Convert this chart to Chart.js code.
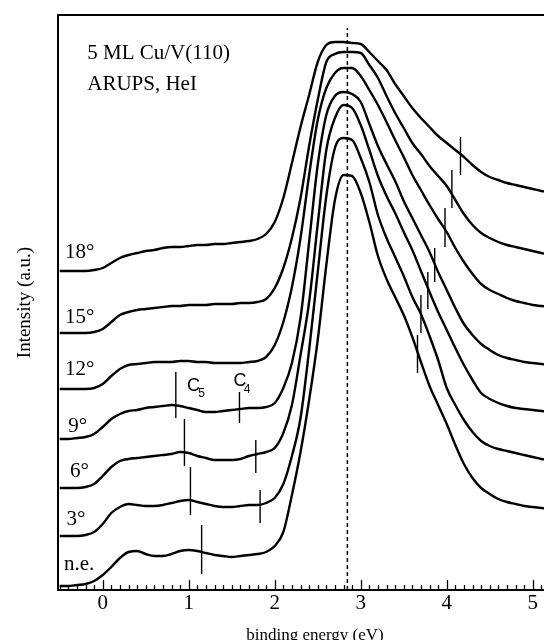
<!DOCTYPE html>
<html><head><meta charset="utf-8">
<script src="https://cdn.jsdelivr.net/npm/chart.js@4.4.1/dist/chart.umd.min.js"></script>
<style>html,body{margin:0;padding:0;background:#fff}canvas{display:block}</style>
</head><body>
<canvas id="c" width="544" height="640"></canvas>
<script>
// ---- data ----
const energies = [-0.5,-0.4,-0.3,-0.2,-0.1,0.0,0.1,0.2,0.3,0.4,
  0.5,0.6,0.7,0.8,0.9,1.0,1.1,1.2,1.3,1.4,
  1.5,1.6,1.7,1.8,1.9,2.0,2.1,2.2,2.3,2.4,
  2.5,2.6,2.7,2.8,2.9,3.0,3.1,3.2,3.3,3.4,
  3.5,3.6,3.7,3.8,3.9,4.0,4.1,4.2,4.3,4.4,
  4.5,4.6,4.7,4.8,4.9,5.0,5.1,5.2];
const curveNames = ['18°','15°','12°','9°','6°','3°','n.e.'];
const int18 = [319,319,319,319,320,322,327,332,335,337,
  339,340,342,343,343,344,345,345,346,346,
  347,348,349,351,356,368,392,427,463,495,
  528,545,548,548,547,546,538,529,520,506,
  494,482,472,463,454,447,440,433,425,418,
  413,410,407,405,403,401,399,398];
const int15 = [257,257,257,257,258,261,268,275,278,280,
  281,282,283,284,284,285,285,285,286,286,
  286,287,287,288,291,302,322,352,392,444,
  490,528,536,538,538,537,525,512,494,477,
  462,447,436,424,414,404,390,376,365,357,
  352,348,345,343,341,339,337,335];
const int12 = [201,201,201,201,202,206,214,221,225,226,
  227,228,228,228,229,229,228,228,227,227,
  227,227,228,229,233,245,268,303,352,415,
  470,502,517,522,522,514,500,485,468,450,
  433,415,400,385,371,358,342,328,316,306,
  300,296,292,289,287,285,284,283];
const int9 = [151,151,152,153,156,163,171,176,179,180,
  182,183,184,185,184,182,180,178,178,179,
  180,181,182,182,183,187,202,227,272,348,
  425,475,494,498,496,488,466,444,426,409,
  389,372,355,338,318,300,282,266,255,246,
  240,235,232,230,228,227,226,225];
const int6 = [102,102,102,103,106,114,123,129,131,132,
  133,134,135,136,138,137,134,132,130,130,
  130,131,134,136,138,142,157,185,235,288,
  366,440,472,485,482,465,440,414,394,377,
  358,340,319,298,278,260,242,225,210,197,
  191,187,184,182,181,180,179,178];
const int3 = [54,54,54,55,58,66,77,83,86,85,
  84,84,85,87,89,90,88,86,84,83,
  83,84,85,85,87,92,106,134,172,240,
  318,394,442,452,450,432,408,375,352,333,
  314,293,276,254,230,202,185,170,158,149,
  144,141,139,137,135,133,131,130];
const intNE = [4,4,5,6,9,15,23,32,38,39,
  36,34,34,36,39,40,39,37,35,34,
  33,34,35,36,38,44,58,95,138,190,
  250,325,390,415,414,397,368,334,311,293,
  275,253,228,204,185,166,145,126,112,102,
  96,91,88,86,84,83,82,81];
const curves = [int18,int15,int12,int9,int6,int3,intNE];

const xTickValues = [0,1,2,3,4,5];
const xTickLabels = ['0','1','2','3','4','5'];

// feature marks (vertical bars)
const markEnergy = [4.16,4.06,3.98,3.86,3.78,3.70,3.66, 0.85,1.59,0.95,1.78,1.02,1.83,1.15];
const markLow    = [415,382,343,308,281,257,217, 172,167,124,117,75,67,16];
const markHigh   = [453,420,382,342,318,295,255, 218,198,171,150,123,100,65];

const peakEnergy = 2.845;
const peakLineTop = 562;

const xTitle = 'binding energy (eV)';
const yTitle = 'Intensity (a.u.)';
const headerLines = ['5 ML Cu/V(110)', 'ARUPS, HeI'];

// label anchors (energy, intensity)
const curveLabelE = [-0.44,-0.44,-0.44,-0.40,-0.38,-0.42,-0.45];
const curveLabelI = [332,267,215,158,113,65,20];
const headerE = -0.18;
const headerI = [531,500];
const cLabels = [{main:'C',sub:'5',e:0.98,i:199,se:1.11,si:193},{main:'C',sub:'4',e:1.52,i:204,se:1.64,si:197}];

// ---- datasets ----
const datasets = [];
curves.forEach((arr,k)=>{
  datasets.push({label:curveNames[k], data:energies.map((e,i)=>({x:e,y:arr[i]})),
    borderColor:'#000', borderWidth:2.4, pointRadius:0, cubicInterpolationMode:'monotone', fill:false});
});
markEnergy.forEach((e,k)=>{
  datasets.push({label:'mark'+k, data:[{x:e,y:markLow[k]},{x:e,y:markHigh[k]}],
    borderColor:'#000', borderWidth:1.4, pointRadius:0, fill:false});
});
datasets.push({label:'peak', data:[{x:peakEnergy,y:0},{x:peakEnergy,y:peakLineTop}],
  borderColor:'#000', borderWidth:1.5, borderDash:[4,3], pointRadius:0, fill:false});

const serif = '"Liberation Serif", "Times New Roman", serif';
const sans = '"Liberation Sans", Arial, sans-serif';

const decor = {
  id:'decor',
  afterDraw(chart){
    const {ctx, chartArea:a, scales:{x,y}} = chart;
    ctx.save();
    ctx.strokeStyle='#000'; ctx.fillStyle='#000';
    ctx.lineWidth=2;
    ctx.beginPath(); ctx.moveTo(a.left-1,a.top); ctx.lineTo(a.right,a.top); ctx.stroke();
    ctx.lineWidth=1.3;
    for(let i=-5;i<=51;i++){
      const px=Math.round(x.getPixelForValue(i/10))+0.5;
      const len=(i%10===0)?10:5;
      ctx.beginPath(); ctx.moveTo(px,a.bottom); ctx.lineTo(px,a.bottom-len); ctx.stroke();
    }
    ctx.textBaseline='alphabetic'; ctx.textAlign='left';
    ctx.font='21px '+serif;
    curveNames.forEach((n,k)=>{
      ctx.fillText(n, x.getPixelForValue(curveLabelE[k]), y.getPixelForValue(curveLabelI[k]));
    });
    headerLines.forEach((t,k)=>{
      ctx.fillText(t, x.getPixelForValue(headerE), y.getPixelForValue(headerI[k]));
    });
    cLabels.forEach(c=>{
      ctx.font='18px '+sans;
      ctx.fillText(c.main, x.getPixelForValue(c.e), y.getPixelForValue(c.i));
      ctx.font='12px '+sans;
      ctx.fillText(c.sub, x.getPixelForValue(c.se), y.getPixelForValue(c.si));
    });
    // axis titles
    ctx.font='17px '+serif; ctx.textAlign='center';
    ctx.fillText(xTitle, (a.left+a.right)/2+14, chart.height);
    ctx.save();
    ctx.translate(30,(a.top+a.bottom)/2);
    ctx.rotate(-Math.PI/2);
    ctx.font='19px '+serif;
    ctx.fillText(yTitle,0,0);
    ctx.restore();
    ctx.restore();
  }
};

new Chart(document.getElementById('c'), {
  type:'line',
  data:{datasets},
  options:{
    responsive:false, animation:false, devicePixelRatio:1,
    layout:{padding:{top:15,right:0,left:0,bottom:0}},
    plugins:{legend:{display:false}, tooltip:{enabled:false}},
    elements:{line:{tension:0}},
    scales:{
      x:{type:'linear', min:-0.52, max:5.131,
        border:{display:true,color:'#000',width:2},
        grid:{display:false, drawTicks:false},
        ticks:{color:'#000', font:{family:serif,size:21}, padding:1, maxRotation:0, autoSkip:false,
          callback:(v)=>{const k=xTickValues.indexOf(v); return k>=0?xTickLabels[k]:'';}},
        afterBuildTicks:(s)=>{s.ticks=xTickValues.map(v=>({value:v}));},
        afterFit:(s)=>{s.height=50;}
      },
      y:{type:'linear', min:0, max:575,
        border:{display:true,color:'#000',width:2},
        grid:{display:false, drawTicks:false},
        ticks:{display:false},
        afterFit:(s)=>{s.width=58;}
      }
    }
  },
  plugins:[decor]
});
</script>
</body></html>
